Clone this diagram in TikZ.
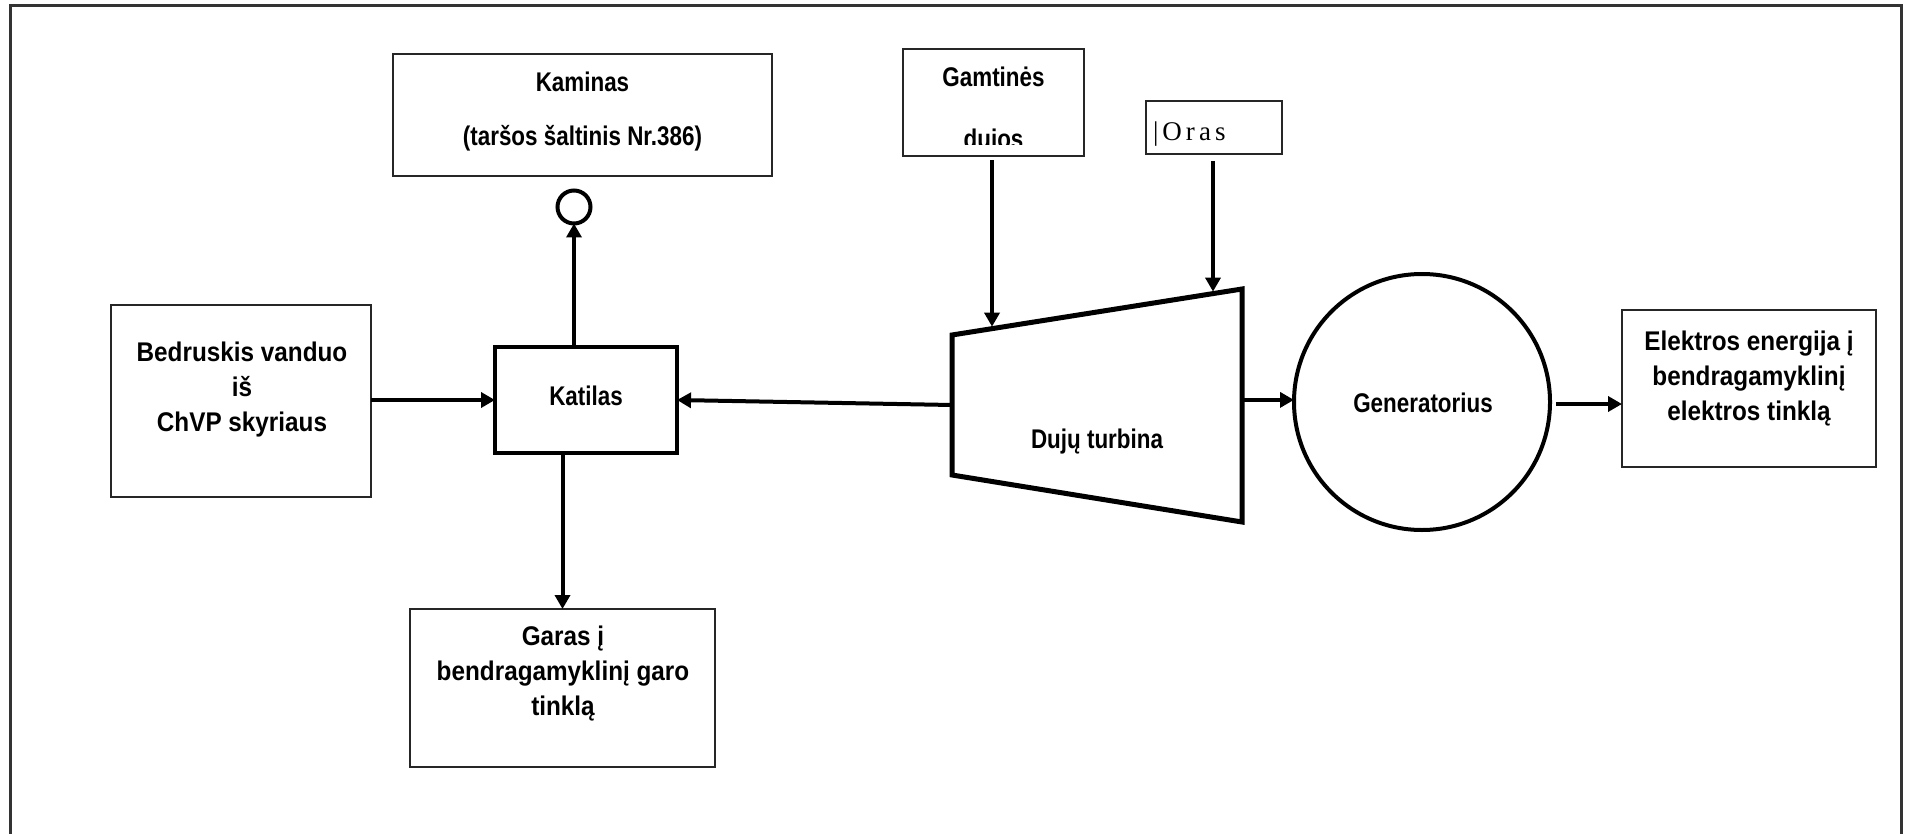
\documentclass[tikz,border=0pt]{standalone}
\usepackage{fontspec}
\setmainfont{Liberation Sans}
\newfontfamily\lblfont[FakeStretch=0.83]{Liberation Sans}
\newfontfamily\widefont[FakeStretch=0.9]{Liberation Sans}
\newfontfamily\orasfont[LetterSpace=15]{Liberation Serif}
\usetikzlibrary{arrows.meta,calc}

\begin{document}
\begin{tikzpicture}[x=1pt,y=-1pt,
  every node/.style={inner sep=0pt, outer sep=0pt},
  txt/.style={font=\lblfont\bfseries\fontsize{27}{36}\selectfont, align=center},
  widetxt/.style={font=\widefont\bfseries\fontsize{27}{35}\selectfont, align=center},
  thinbox/.style={draw=black!85, line width=2pt, rectangle},
  thickbox/.style={draw=black, line width=4pt, rectangle},
  flow/.style={line width=4pt, -{Triangle[length=14pt,width=15pt]}},
]
\useasboundingbox (0,0) rectangle (1905,834);

% page frame (open at the bottom)
\draw[line width=3pt, black!80] (10,834) -- (10,6) -- (1901,6) -- (1901,834);

% --- boxes ---
\node[thinbox, minimum width=260pt, minimum height=192pt] (bedr) at (241,401) {};
\node[widetxt] (bedrt) at (242,390) {Bedruskis vanduo\\iš\\ChVP skyriaus};

\node[thickbox, minimum width=182pt, minimum height=106pt] (kat) at (586,400) {};
\node[txt] (katt) at (586,396) {Katilas};

\node[thinbox, minimum width=379pt, minimum height=122pt] (kam) at (582.5,115) {};
\node[txt, anchor=base] (kamt1) at (582.5,92) {Kaminas};
\node[txt, anchor=base] (kamt2) at (582.5,146) {(taršos šaltinis Nr.386)};

\node[circle, draw, line width=4pt, minimum size=33pt] (kcirc) at (574,207) {};

\node[thinbox, minimum width=305pt, minimum height=158pt] (garas) at (562.5,688) {};
\node[widetxt] (garast) at (563,674) {Garas į\\bendragamyklinį garo\\tinklą};

\node[thinbox, minimum width=181pt, minimum height=107pt] (gamt) at (993.5,102.5) {};
\node[txt, anchor=base] (gamtt) at (993.5,87) {Gamtinės};
\begin{scope}
  \clip (gamt.north west) rectangle ($(gamt.south east)+(0,-11)$);
  \node[txt, anchor=base] (gamtt2) at (993.5,149) {dujos};
\end{scope}

\node[thinbox, minimum width=136pt, minimum height=53pt] (oras) at (1214,127.5) {};
\node[anchor=base west, font=\orasfont\fontsize{27}{30}\selectfont] (orast) at (1153,141) {|Oras};

% --- gas turbine ---
\coordinate (tTL) at (952,335);
\coordinate (tTR) at (1242,289);
\coordinate (tBR) at (1242,522);
\coordinate (tBL) at (952,475);
\draw[line width=5pt, line join=miter] (tTL) -- (tTR) -- (tBR) -- (tBL) -- cycle;
\node[txt] (turbt) at (1097,442) {Dujų turbina};
\coordinate (gin) at ($(tTL)!0.138!(tTR)$);
\coordinate (oin) at ($(tTL)!0.9!(tTR)$);
\coordinate (tL) at ($(tTL)!0.5!(tBL)$);
\coordinate (tR) at ($(tTR)!0.476!(tBR)$);

% --- generator ---
\node[circle, draw, line width=4pt, minimum size=256pt] (gen) at (1422,402) {};
\node[txt] (gent) at (1423,403) {Generatorius};

\node[thinbox, minimum width=254pt, minimum height=157pt] (elek) at (1749,388.5) {};
\node[widetxt] (elekt) at (1749,379) {Elektros energija į\\bendragamyklinį\\elektros tinklą};

% --- flows ---
\draw[flow] (bedr.east |- kat.west) -- (kat.west);
\draw[flow] (kat.north -| kcirc.south) -- (kcirc.south);
\draw[flow] (kat.south -| garas.north) -- (garas.north);
\draw[flow, shorten <=4pt, shorten >=2pt] (gamt.south -| gin) -- (gin);
\draw[flow, shorten <=7pt, shorten >=2pt] (oras.south -| oin) -- (oin);
\draw[flow] (tL) -- (kat.east);
\draw[flow] (tR) -- (tR -| gen.west);
\coordinate (gout) at ($(gen.east)+(6,2)$);
\draw[flow] (gout) -- (gout -| elek.west);
\end{tikzpicture}
\end{document}
